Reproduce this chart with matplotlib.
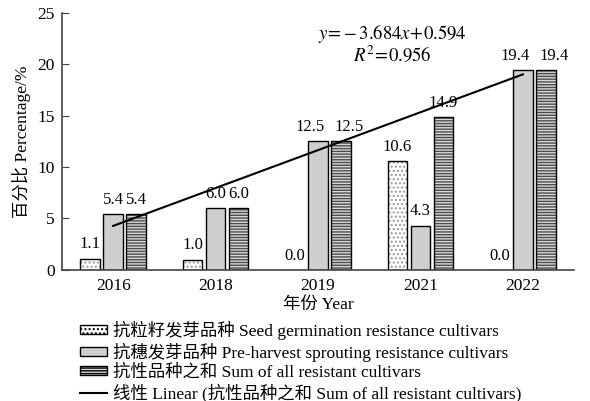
import numpy as np
import matplotlib.pyplot as plt
from matplotlib.lines import Line2D
from matplotlib.patches import Patch

plt.rcParams['font.family'] = ['Liberation Serif', 'Noto Sans CJK SC', 'DejaVu Sans']
plt.rcParams['mathtext.fontset'] = 'stix'
plt.rcParams['hatch.linewidth'] = 1.0

years = ['2016', '2018', '2019', '2021', '2022']
seed = [1.1, 1.0, 0.0, 10.6, 0.0]
preharvest = [5.4, 6.0, 12.5, 4.3, 19.4]
total = [5.4, 6.0, 12.5, 14.9, 19.4]
slope, intercept = 3.684, 0.594

labels = ['抗粒籽发芽品种 Seed germination resistance cultivars',
          '抗穗发芽品种 Pre-harvest sprouting resistance cultivars',
          '抗性品种之和 Sum of all resistant cultivars',
          '线性 Linear (抗性品种之和 Sum of all resistant cultivars)']

fig = plt.figure(figsize=(5.9, 4.01), dpi=100)
ax = fig.add_axes([0.105, 0.327, 0.868, 0.641])

x = np.arange(len(years))
w = 0.19
off = 0.225
b1 = ax.bar(x - off, seed, w, facecolor='white', edgecolor='black', lw=1.0, hatch='....')
for p in b1:
    p._hatch_color = (0.6, 0.6, 0.6, 1)
b2 = ax.bar(x, preharvest, w, facecolor='#cfcfcf', edgecolor='black', lw=1.0)
b3 = ax.bar(x + off, total, w, facecolor='#d8d8d8', edgecolor='black', lw=1.0, hatch='------')
for p in b3:
    p._hatch_color = (0.3, 0.3, 0.3, 1)

# value labels; neighbours with two-digit values get pushed apart a little
for bars, vals, side in [(b1, seed, 0), (b2, preharvest, -1), (b3, total, 1)]:
    for i, (p, v) in enumerate(zip(bars, vals)):
        dx = 0.08 * side if (preharvest[i] >= 10 and total[i] >= 10) else 0
        ax.text(p.get_x() + p.get_width() / 2 + dx, v + 0.6, f'{v:.1f}',
                ha='center', va='bottom', fontsize=12)

# trend line for the sum, x = 1..5
xl = np.array([0, 4])
ax.plot(xl, slope * (xl + 1) + intercept, color='black', lw=1.5)

ax.text(2.73, 23.0, r'$y\!=\!-3.684x\!+\!0.594$', ha='center', va='center', fontsize=13.5)
ax.text(2.73, 20.9, r'$R^2\!=\!0.956$', ha='center', va='center', fontsize=13.5)

ax.set_xlim(-0.5, 4.5)
ax.set_ylim(0, 25)
ax.set_yticks([0, 5, 10, 15, 20, 25])
ax.set_xticks(x)
ax.set_xticklabels(years)
ax.tick_params(axis='y', direction='in', length=5, labelsize=12.5, color='#444', pad=5)
ax.tick_params(axis='x', length=0, labelsize=12.5, pad=6)
for s in ['top', 'right']:
    ax.spines[s].set_visible(False)
for s in ['left', 'bottom']:
    ax.spines[s].set_color('#444')
    ax.spines[s].set_linewidth(1.2)

ax.set_ylabel('百分比 Percentage/%', fontsize=12.5, labelpad=5)
ax.set_xlabel('年份 Year', fontsize=12.5, labelpad=2)

handles = [Patch(facecolor='white', edgecolor='black', hatch='....'),
           Patch(facecolor='#cfcfcf', edgecolor='black'),
           Patch(facecolor='#d8d8d8', edgecolor='black', hatch='------'),
           Line2D([], [], color='black', lw=1.5)]
fig.legend(handles, labels, loc='upper left', bbox_to_anchor=(0.135, 0.2),
           frameon=False, fontsize=12.5, handlelength=1.55, handleheight=0.45,
           handletextpad=0.35, labelspacing=0.15, borderaxespad=0, borderpad=0)

fig.savefig('out.png', dpi=100)
